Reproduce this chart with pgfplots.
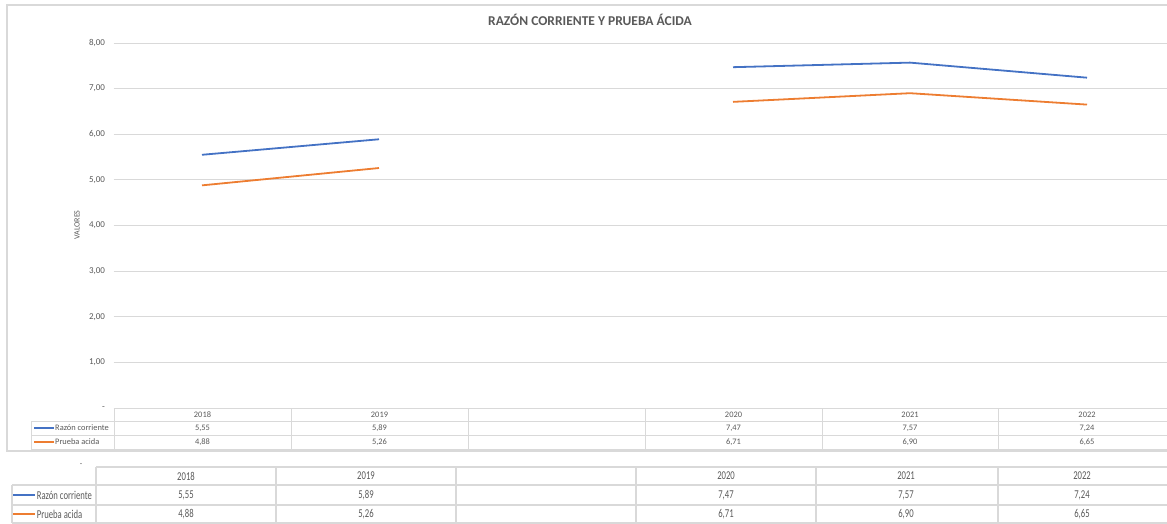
\documentclass[border=0pt]{standalone}
\usepackage{pgfplots}
\pgfplotsset{compat=1.18}
\usepackage{pgfplotstable}
\usepackage{fontspec}
\setmainfont{Carlito}

\definecolor{serA}{HTML}{4472C4}
\definecolor{serB}{HTML}{ED7D31}
\definecolor{txt}{HTML}{595959}
\definecolor{gridc}{HTML}{D9D9D9}

% x = posicion de la categoria (2 = columna vacia)
\pgfplotstableread{
x razon prueba
0 5.55 4.88
1 5.89 5.26
2 nan  nan
3 7.47 6.71
4 7.57 6.90
5 7.24 6.65
}\datos

\begin{document}
\begin{tikzpicture}[x=1pt,y=1pt]
\useasboundingbox (0,0) rectangle (1167,523);
% marco del grafico
\draw[gridc, line width=1.2pt] (7,72) rectangle (1175,518);
\node[txt, font=\fontsize{13.5}{13.5}\selectfont\bfseries] at (590,503) {RAZÓN CORRIENTE Y PRUEBA ÁCIDA};
\node[txt, rotate=90, font=\fontsize{8}{8}\selectfont] at (77,298) {VALORES};

\begin{axis}[
  at={(113.5pt,115pt)}, anchor=south west,
  scale only axis, width=1053.5pt, height=365pt,
  xmin=-0.5, xmax=5.452, ymin=0, ymax=8,
  axis line style={draw=none}, tick style={draw=none},
  xtick=\empty,
  ytick={0,1,...,8},
  yticklabels={{-},{1,00},{2,00},{3,00},{4,00},{5,00},{6,00},{7,00},{8,00}},
  yticklabel style={txt, font=\fontsize{9}{9}\selectfont, xshift=-5pt},
  ymajorgrids, grid style={gridc, line width=1pt},
  unbounded coords=jump, clip=false,
]
\addplot[serA, line width=1.8pt] table[x=x, y=razon] {\datos};
\addplot[serB, line width=1.8pt] table[x=x, y=prueba] {\datos};
\end{axis}

% tabla de datos dentro del grafico
\begin{scope}[gridc, line width=0.9pt]
\draw (114,115) -- (1175,115);
\draw (31,102) -- (1175,102);
\draw (31,88) -- (1175,88);
\draw (31,74) -- (1175,74);
\draw (31,102) -- (31,74);
\foreach \vx in {114,291,468,645,822,998} \draw (\vx,115) -- (\vx,74);
\end{scope}
\draw[serA, line width=1.6pt] (34,95) -- (54,95);
\draw[serB, line width=1.6pt] (34,81) -- (54,81);
\begin{scope}[txt, font=\fontsize{8.4}{8.4}\selectfont]
\node[anchor=west, inner sep=1pt] at (54,95) {Razón corriente};
\node[anchor=west, inner sep=1pt] at (54,81) {Prueba acida};
\foreach \cx/\yr/\ra/\pa in {202.5/2018/5{,}55/4{,}88, 379.5/2019/5{,}89/5{,}26,
    733.5/2020/7{,}47/6{,}71, 910/2021/7{,}57/6{,}90, 1087/2022/7{,}24/6{,}65} {
  \node at (\cx,108.5) {\yr};
  \node at (\cx,95) {\ra};
  \node at (\cx,81) {\pa};
}
\end{scope}

% tabla duplicada debajo del grafico
\begin{scope}[gridc, line width=1.3pt]
\draw (96,56) -- (1175,56);
\draw (12,38) -- (1175,38);
\draw (12,18) -- (1175,18);
\draw (12,0) -- (1175,0);
\draw (12,38) -- (12,0);
\foreach \vx in {96,276,456,636,816,998} \draw (\vx,56) -- (\vx,0);
\end{scope}
\draw[serA, line width=2.2pt] (13,28) -- (35,28);
\draw[serB, line width=2.2pt] (13,9) -- (35,9);
\begin{scope}[txt, font=\fontsize{12}{12}\selectfont]
\node[txt, font=\fontsize{8}{8}\selectfont] at (81,58) {-};
\node[anchor=west, inner sep=1pt, xscale=0.72] at (36,28) {Razón corriente};
\node[anchor=west, inner sep=1pt, xscale=0.72] at (36,9) {Prueba acida};
\foreach \cx/\yr/\ra/\pa in {186/2018/5{,}55/4{,}88, 366/2019/5{,}89/5{,}26,
    726/2020/7{,}47/6{,}71, 906/2021/7{,}57/6{,}90, 1082/2022/7{,}24/6{,}65} {
  \node[xscale=0.72] at (\cx,47) {\yr};
  \node[xscale=0.72] at (\cx,28) {\ra};
  \node[xscale=0.72] at (\cx,9) {\pa};
}
\end{scope}
\end{tikzpicture}
\end{document}
